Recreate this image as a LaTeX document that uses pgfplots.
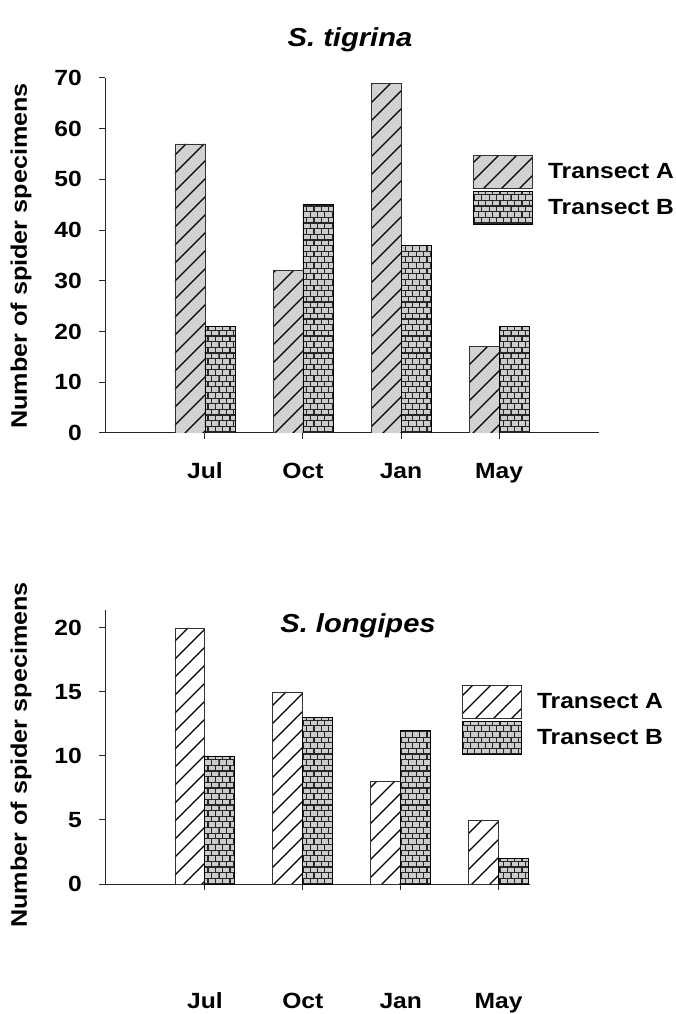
\documentclass[border=0pt]{standalone}
\usepackage{fontspec}
\setmainfont{Liberation Sans}[FakeStretch=1.12]
\usepackage{pgfplots}
\pgfplotsset{compat=1.18}
\usetikzlibrary{patterns}

\pgfdeclarepatternformonly{wlines}{\pgfqpoint{-1pt}{-1pt}}{\pgfqpoint{19pt}{19pt}}{\pgfqpoint{18pt}{18pt}}{%
  \pgfsetlinewidth{1.2pt}%
  \pgfpathmoveto{\pgfqpoint{0pt}{0pt}}\pgfpathlineto{\pgfqpoint{18.1pt}{18.1pt}}\pgfusepath{stroke}}

\pgfdeclarepatternformonly{sbricks}{\pgfqpoint{-0.6pt}{-0.6pt}}{\pgfqpoint{15.2pt}{11.9pt}}{\pgfqpoint{14.6pt}{11.3pt}}{%
  \pgfsetlinewidth{1.2pt}%
  \pgfpathmoveto{\pgfqpoint{-0.6pt}{0pt}}\pgfpathlineto{\pgfqpoint{15.2pt}{0pt}}%
  \pgfpathmoveto{\pgfqpoint{-0.6pt}{5.65pt}}\pgfpathlineto{\pgfqpoint{15.2pt}{5.65pt}}%
  \pgfpathmoveto{\pgfqpoint{0pt}{0pt}}\pgfpathlineto{\pgfqpoint{0pt}{5.65pt}}%
  \pgfpathmoveto{\pgfqpoint{7.3pt}{0pt}}\pgfpathlineto{\pgfqpoint{7.3pt}{5.65pt}}%
  \pgfpathmoveto{\pgfqpoint{3.65pt}{5.65pt}}\pgfpathlineto{\pgfqpoint{3.65pt}{11.3pt}}%
  \pgfpathmoveto{\pgfqpoint{10.95pt}{5.65pt}}\pgfpathlineto{\pgfqpoint{10.95pt}{11.3pt}}%
  \pgfusepath{stroke}}

\newcommand{\tickfont}{\bfseries\fontsize{22}{22}\selectfont}

\pgfplotsset{
  mylegend/.style={legend image code/.code={%
    \draw[##1, line width=0.8pt] (0pt,-16.5pt) rectangle (59pt,16.5pt);
    \path (74pt,0pt);}},
  common/.style={
    scale only axis,
    axis lines*=left,
    axis line style={line width=1pt, black!85},
    tick align=outside,
    major tick length=6pt,
    tick style={line width=1pt, black!85},
    xmin=-1.02,
    xtick={0,1,2,3},
    xticklabels={Jul,Oct,Jan,May},
    /pgf/number format/assume math mode=true,
    ticklabel style={font=\tickfont},
    yticklabel style={anchor=east, inner sep=0pt, xshift=-17pt},
    legend style={draw=none, fill=none, inner sep=0pt, row sep=2pt,
      nodes={inner sep=0pt, anchor=west}, font=\tickfont, legend cell align=left},
  },
  abar/.style={ybar, bar width=0.306, bar shift=-0.153, draw=black!80, line width=0.8pt, mylegend},
  bbar/.style={ybar, bar width=0.306, bar shift=0.153, draw=black, line width=0.8pt,
     fill=gray!40, postaction={pattern=sbricks, pattern color=black!85}, mylegend},
}

\begin{document}
\begin{tikzpicture}[x=1pt,y=1pt]
\begin{axis}[common,
  at={(105pt,581pt)}, anchor=south west,
  width=494pt, height=355pt,
  xmax=4.02, ymin=0, ymax=70,
  ytick={0,10,...,70},
  xticklabel style={anchor=base, yshift=-40pt},
  legend style={at={(rel axis cs:0.745,0.783)}, anchor=north west},
]
\addplot[abar, fill=gray!35, postaction={pattern=wlines, pattern color=black}]
  coordinates {(0,57) (1,32) (2,69) (3,17)};
\addlegendentry{Transect A}
\addplot[bbar] coordinates {(0,21) (1,45) (2,37) (3,21)};
\addlegendentry{Transect B}
\end{axis}

\begin{axis}[common,
  at={(105pt,130pt)}, anchor=south west,
  width=425pt, height=274pt,
  xmax=3.32, ymin=0, ymax=21.4,
  ytick={0,5,...,20},
  xticklabel style={anchor=base, yshift=-118pt},
  legend style={at={(rel axis cs:0.84,0.726)}, anchor=north west},
]
\addplot[abar, fill=white, postaction={pattern=wlines, pattern color=black}]
  coordinates {(0,20) (1,15) (2,8) (3,5)};
\addlegendentry{Transect A}
\addplot[bbar] coordinates {(0,10) (1,13) (2,12) (3,2)};
\addlegendentry{Transect B}
\end{axis}

\node[anchor=base, font=\bfseries\itshape\fontsize{26}{26}\selectfont] at (350pt,967pt) {S. tigrina};
\node[anchor=base, font=\bfseries\itshape\fontsize{26}{26}\selectfont] at (358pt,381pt) {S. longipes};
\node[rotate=90, font=\bfseries\fontsize{22.5}{22.5}\selectfont] at (21pt,758pt) {Number of spider specimens};
\node[rotate=90, font=\bfseries\fontsize{22.5}{22.5}\selectfont] at (21pt,259pt) {Number of spider specimens};

\pgfresetboundingbox
\useasboundingbox (0pt,0pt) rectangle (675pt,1014pt);
\end{tikzpicture}
\end{document}
